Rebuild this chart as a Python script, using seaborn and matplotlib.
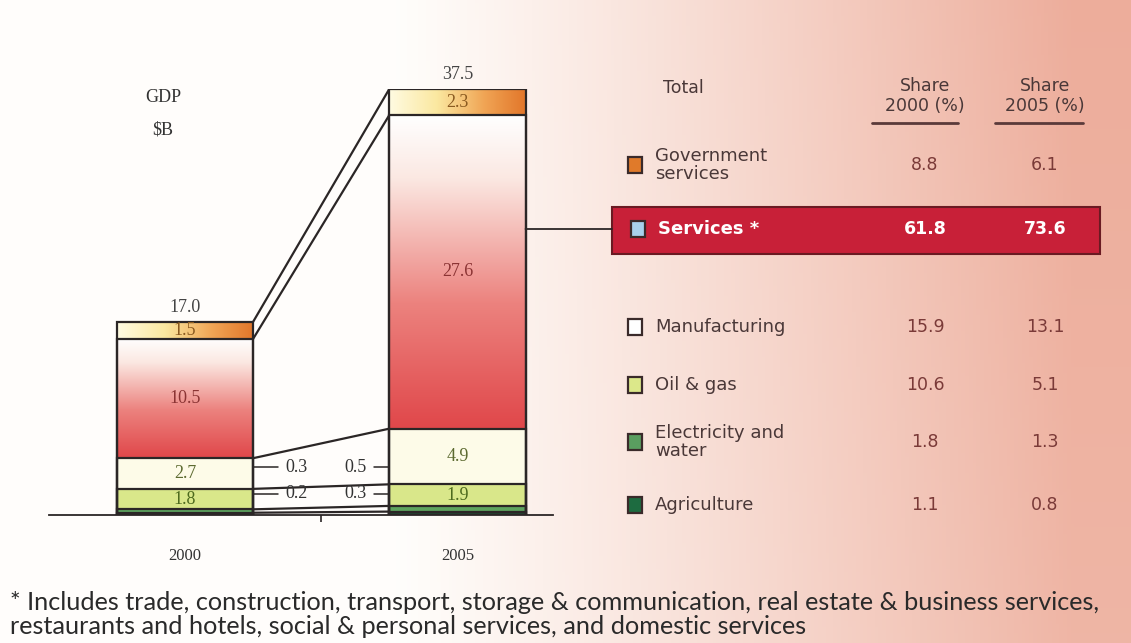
import numpy as np
import pandas as pd
import matplotlib
matplotlib.use("Agg")
import matplotlib.pyplot as plt
import seaborn as sns
from matplotlib.patches import Rectangle, ConnectionPatch
from matplotlib.lines import Line2D
from matplotlib.colors import LinearSegmentedColormap

# data (bottom of the stack first)
years = ["2000", "2005"]
sectors = ["Agriculture", "Electricity and\nwater", "Oil & gas", "Manufacturing",
           "Services *", "Government\nservices"]
gdp_2000 = [0.2, 0.3, 1.8, 2.7, 10.5, 1.5]
gdp_2005 = [0.3, 0.5, 1.9, 4.9, 27.6, 2.3]
share_2000 = [1.1, 1.8, 10.6, 15.9, 61.8, 8.8]
share_2005 = [0.8, 1.3, 5.1, 13.1, 73.6, 6.1]
footnote = ["* Includes trade, construction, transport, storage & communication, real estate & business services,",
            "restaurants and hotels, social & personal services, and domestic services"]

W, H = 1131, 643
fill_cols = ["#1d5e3b", "#5da35f", "#d9e78a", "#fdfbe8", "#e8605c", "#eea050"]
key_cols = ["#1d6b40", "#5a9e60", "#dce88a", "#ffffff", "#a8d0ec", "#e07a2a"]
edge = "#2b2626"
serif = "Liberation Serif"


def fx(x):
    return x / W


def fy(y):
    return 1 - y / H


sns.set_theme(style="white")
fig = plt.figure(figsize=(W / 100, H / 100), dpi=100)

# scanned-page background: white on the left, salmon towards the right
bg = fig.add_axes([0, 0, 1, 1], zorder=-10)
gx, gy = np.meshgrid(np.linspace(0, 1, 300), np.linspace(0, 1, 200))
t = np.clip((gx - 0.35) / 0.6, 0, 1) ** 1.1 * (0.9 + 0.1 * gy)
white = np.array([1.0, 0.995, 0.985])
salmon = np.array([0.93, 0.68, 0.61])
img = white[None, None, :] * (1 - t[..., None]) + salmon[None, None, :] * t[..., None]
bg.imshow(img, extent=(0, 1, 0, 1), aspect="auto", origin="lower")
bg.axis("off")

# bar axes: x in category units (bars at 0 and 1), y in $B
ax = fig.add_axes([fx(48.75), fy(515), fx(504), (515 - 89) / H])
ax.patch.set_alpha(0)

cum_2000 = np.cumsum(gdp_2000)
cum_2005 = np.cumsum(gdp_2005)

# stacked bars drawn as overlapping cumulative bars, tallest first
for k in range(len(sectors) - 1, -1, -1):
    df = pd.DataFrame({"year": years, "value": [cum_2000[k], cum_2005[k]]})
    sns.barplot(data=df, x="year", y="value", color=fill_cols[k], saturation=1,
                width=0.5, errorbar=None, ax=ax, linewidth=0, zorder=1)

# gradient fills for services and government
serv_cmap = LinearSegmentedColormap.from_list(
    "serv", [(0, "#e0474a"), (0.4, "#ec827e"), (0.8, "#fbe8e2"), (1, "#ffffff")])
gov_cmap = LinearSegmentedColormap.from_list(
    "gov", [(0, "#fffbe2"), (0.35, "#fbe8a0"), (0.7, "#f0a454"), (1, "#e2762a")])
for i, (cum, vals) in enumerate([(cum_2000, gdp_2000), (cum_2005, gdp_2005)]):
    lo, hi = cum[4] - vals[4], cum[4]
    ax.imshow(np.linspace(0, 1, 256)[:, None], cmap=serv_cmap, aspect="auto",
              origin="lower", extent=(i - 0.25, i + 0.25, lo, hi), zorder=2)
    lo, hi = cum[5] - vals[5], cum[5]
    ax.imshow(np.linspace(0, 1, 256)[None, :], cmap=gov_cmap, aspect="auto",
              origin="lower", extent=(i - 0.25, i + 0.25, lo, hi), zorder=2)

# outlines of every segment
for k in range(len(sectors)):
    df = pd.DataFrame({"year": years, "value": [cum_2000[k], cum_2005[k]]})
    sns.barplot(data=df, x="year", y="value", color=edge, fill=False,
                width=0.5, errorbar=None, ax=ax, linewidth=1.6, zorder=3)

# connector lines between matching segment boundaries
for k in range(len(sectors)):
    ax.plot([0.25, 0.75], [cum_2000[k], cum_2005[k]], color=edge, lw=1.6, zorder=3)

# labels inside the larger segments
lab_cols = ["#2f5a2a", "#2f5a2a", "#4d6a1e", "#5c6a30", "#8b3434", "#8a5a20"]
for i, (cum, vals) in enumerate([(cum_2000, gdp_2000), (cum_2005, gdp_2005)]):
    for k in range(2, len(sectors)):
        ax.text(i, cum[k] - vals[k] / 2, f"{vals[k]:.1f}", ha="center", va="center",
                family=serif, fontsize=13, color=lab_cols[k], zorder=4)
    ax.annotate(f"{cum[-1]:.1f}", (i, cum[-1]), xytext=(0, 4), textcoords="offset points",
                ha="center", va="bottom", family=serif, fontsize=13, color="#444444")

# small segments labelled outside with bracket leaders
for k, ty in [(1, 4.2), (0, 1.85)]:
    ax.annotate(f"{gdp_2000[k]:.1f}", xy=(0.25, cum_2000[k] - gdp_2000[k] / 2),
                xytext=(0.37, ty), ha="left", va="center", family=serif, fontsize=13,
                color="#333333",
                arrowprops=dict(arrowstyle="-", color=edge, lw=1.1, relpos=(0, 0.5),
                                shrinkA=3, shrinkB=0,
                                connectionstyle="angle,angleA=180,angleB=90,rad=0"))
    ax.annotate(f"{gdp_2005[k]:.1f}", xy=(0.75, cum_2005[k] - gdp_2005[k] / 2),
                xytext=(0.665, ty), ha="right", va="center", family=serif, fontsize=13,
                color="#333333",
                arrowprops=dict(arrowstyle="-", color=edge, lw=1.1, relpos=(1, 0.5),
                                shrinkA=3, shrinkB=0,
                                connectionstyle="angle,angleA=0,angleB=90,rad=0"))

ax.set_xlim(-0.5, 1.35)
ax.set_ylim(0, 37.5)
ax.set_xlabel("")
ax.set_ylabel("")
ax.set_yticks([])
ax.set_xticks([0, 1])
ax.set_xticklabels(years, family=serif, fontsize=12, color="#333333")
ax.set_xticks([0.5], minor=True)
ax.tick_params(axis="x", which="major", length=0, pad=24)
ax.tick_params(axis="x", which="minor", bottom=True, length=5, width=1.2, color=edge)
for s in ["top", "left", "right"]:
    ax.spines[s].set_visible(False)
ax.spines["bottom"].set_color(edge)
ax.spines["bottom"].set_linewidth(1.3)

fig.text(fx(163), fy(98), "GDP", ha="center", va="center", family=serif,
         fontsize=13, color="#333333")
fig.text(fx(163), fy(130), "$B", ha="center", va="center", family=serif,
         fontsize=13, color="#333333")

# table on the right
txt = "#4a3838"
num = "#7a3a38"
fig.text(fx(663), fy(88), "Total", ha="left", va="center", fontsize=12.5, color=txt)
for cx, (x0, x1), yr in [(925, (872, 958), "2000"), (1045, (995, 1083), "2005")]:
    fig.text(fx(cx), fy(86), "Share", ha="center", va="center", fontsize=12.5, color=txt)
    fig.text(fx(cx), fy(106), f"{yr} (%)", ha="center", va="center", fontsize=12.5, color=txt)
    fig.add_artist(Line2D([fx(x0), fx(x1)], [fy(123), fy(123)], color="#5a3a3a", lw=2))

row_y = [505, 442, 385, 327, 229, 165]
serv_box = Rectangle((fx(612), fy(254)), fx(1100) - fx(612), fy(207) - fy(254),
                     transform=fig.transFigure, facecolor="#c82038", edgecolor="#6a1a22",
                     lw=1.5, zorder=1)
fig.add_artist(serv_box)
for k in range(len(sectors)):
    yy = row_y[k]
    hl = k == 4
    kx = 638 if hl else 635
    fig.add_artist(Rectangle((fx(kx - 7), fy(yy + 8)), fx(14), 16 / H,
                             transform=fig.transFigure, facecolor=key_cols[k],
                             edgecolor="#3a2a2a", lw=1.6, zorder=2))
    fig.text(fx(655 if not hl else 658), fy(yy), sectors[k], ha="left", va="center",
             fontsize=13, color="white" if hl else txt,
             fontweight="bold" if hl else "normal", linespacing=1.0, zorder=3)
    fig.text(fx(925), fy(yy), f"{share_2000[k]:.1f}", ha="center", va="center",
             fontsize=12.5, color="white" if hl else num,
             fontweight="bold" if hl else "normal", zorder=3)
    fig.text(fx(1045), fy(yy), f"{share_2005[k]:.1f}", ha="center", va="center",
             fontsize=12.5, color="white" if hl else num,
             fontweight="bold" if hl else "normal", zorder=3)

# leader from the 2005 services segment to the highlighted row
fig.canvas.draw()
y_lead = ax.transData.inverted().transform(fig.transFigure.transform((0, fy(229))))[1]
fig.add_artist(ConnectionPatch(xyA=(1.25, y_lead), coordsA=ax.transData,
                               xyB=(fx(612), fy(229)), coordsB=fig.transFigure,
                               color=edge, lw=1.3))

fig.text(fx(10), fy(603), footnote[0], ha="left", va="center", family="Lato",
         fontsize=18.2, color="#2a2a2a")
fig.text(fx(10), fy(627), footnote[1], ha="left", va="center", family="Lato",
         fontsize=18.2, color="#2a2a2a")

fig.savefig("out.png", dpi=100)
